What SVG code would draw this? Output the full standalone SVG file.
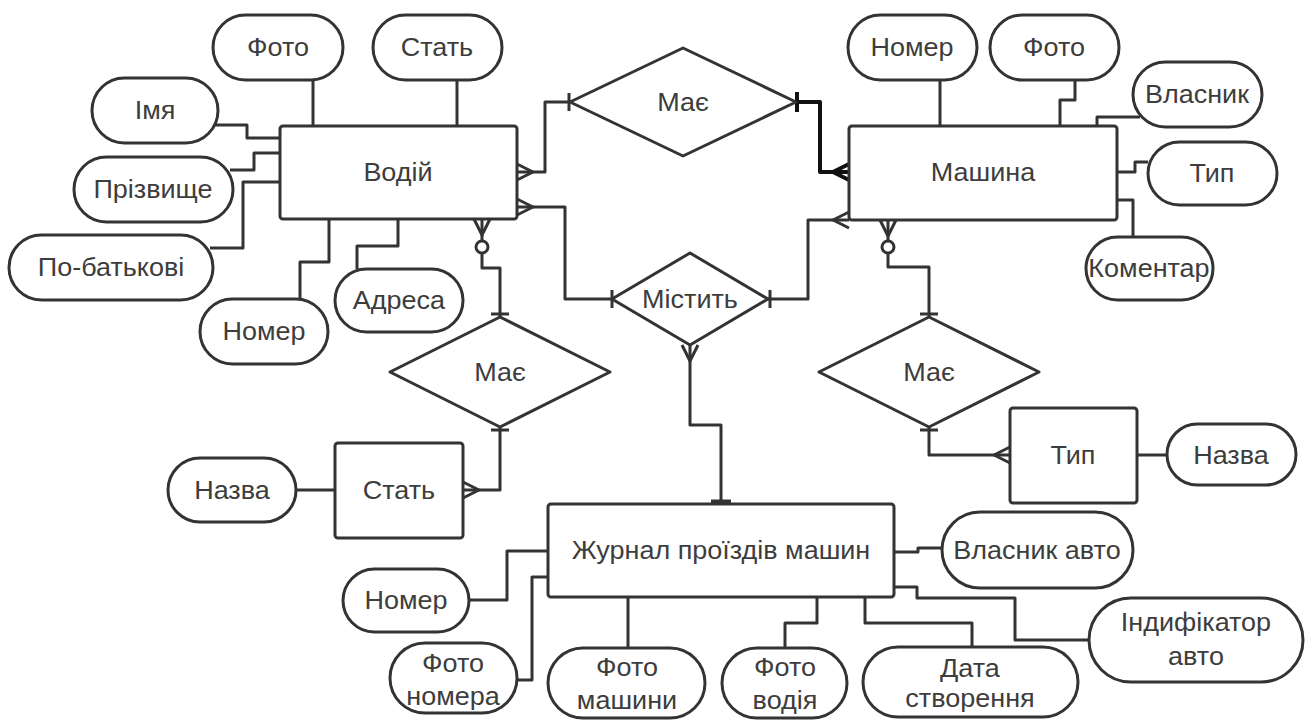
<svg xmlns="http://www.w3.org/2000/svg" width="1309" height="720" viewBox="0 0 1309 720">
  <style>
    .ent { fill: #fff; stroke: #333; stroke-width: 3; }
    .attr { fill: #fff; stroke: #333; stroke-width: 3; }
    .rel { fill: #fff; stroke: #333; stroke-width: 3; stroke-linejoin: round; }
    .c { fill: none; stroke: #333; stroke-width: 3; stroke-linejoin: round; }
    .cb { fill: none; stroke: #111; stroke-width: 4; stroke-linejoin: round; }
    .o { fill: #fff; stroke: #333; stroke-width: 3; }
    .t { font-family: "Liberation Sans", Arial, sans-serif; font-size: 25px; fill: #3d3d3d; text-anchor: middle; dominant-baseline: central; transform-box: fill-box; transform-origin: center; transform: scaleX(1.08); }
  </style>

  <rect width="1309" height="720" fill="#fff"/>

  <!-- connectors -->
  <g id="connectors">
    <!-- Водій attributes -->
    <path class="c" d="M313,80 V126"/>
    <path class="c" d="M457,80 V126"/>
    <path class="c" d="M215,125 H247 V138 H280"/>
    <path class="c" d="M230,170 H254 V153 H280"/>
    <path class="c" d="M210,248 H243 V182 H280"/>
    <path class="c" d="M300,299 V262 H329 V219"/>
    <path class="c" d="M357,269 V246 H398 V219"/>

    <!-- Машина attributes -->
    <path class="c" d="M940,80 V126"/>
    <path class="c" d="M1075,80 V100 H1060 V126"/>
    <path class="c" d="M1140,117 H1097 V126"/>
    <path class="c" d="M1117,172 H1135 V162 H1148"/>
    <path class="c" d="M1117,200 H1133 V237"/>

    <!-- lookup attributes -->
    <path class="c" d="M296,490 H335"/>
    <path class="c" d="M1137,455 H1167"/>

    <!-- Журнал attributes -->
    <path class="c" d="M469,600 H507 V551 H548"/>
    <path class="c" d="M517,680 H532 V577 H548"/>
    <path class="c" d="M628,597 V648"/>
    <path class="c" d="M785,648 V623 H817 V597"/>
    <path class="c" d="M865,597 V623 H972 V647"/>
    <path class="c" d="M894,552 H918 V548 H942"/>
    <path class="c" d="M894,587 H917 V598 H1015 V640 H1089"/>

    <!-- Водій – Має – Машина -->
    <path class="c" d="M517,172 H545 V102 H570"/>
    <path class="c" d="M517,164 L533,172 L517,180"/>
    <path class="c" d="M569,93 V111"/>
    <path class="cb" d="M796,102 H820 V172 H849"/>
    <path class="cb" d="M797,92 V112"/>
    <path class="cb" d="M849,164 L833,172 L849,180"/>

    <!-- Водій – Містить – Машина -->
    <path class="c" d="M517,207 H565 V299 H612"/>
    <path class="c" d="M517,199 L533,207 L517,215"/>
    <path class="c" d="M612,290 V308"/>
    <path class="c" d="M768,299 H808 V220 H849"/>
    <path class="c" d="M770,290 V308"/>
    <path class="c" d="M849,212 L833,220 L849,228"/>

    <!-- Містить – Журнал -->
    <path class="c" d="M690,345 V425 H721 V504"/>
    <path class="c" d="M682,345 L690,361 L698,345"/>
    <path class="c" d="M711,502 H731" style="stroke-width:5"/>

    <!-- Водій – Має – Стать -->
    <path class="c" d="M482,219 V241"/>
    <path class="c" d="M474,219 L482,235 L490,219"/>
    <circle class="o" cx="482" cy="247" r="6"/>
    <path class="c" d="M482,253 V268 H500 V317"/>
    <path class="c" d="M491,314 H509"/>
    <path class="c" d="M500,427 V490 H463"/>
    <path class="c" d="M491,430 H509"/>
    <path class="c" d="M463,482 L479,490 L463,498"/>

    <!-- Машина – Має – Тип -->
    <path class="c" d="M888,220 V241"/>
    <path class="c" d="M880,220 L888,236 L896,220"/>
    <circle class="o" cx="888" cy="247" r="6"/>
    <path class="c" d="M888,253 V267 H929 V317"/>
    <path class="c" d="M920,314 H938"/>
    <path class="c" d="M929,427 V455 H1010"/>
    <path class="c" d="M920,430 H938"/>
    <path class="c" d="M1010,447 L994,455 L1010,463"/>
  </g>

  <!-- Водій -->
  <g id="vodii">
    <rect class="ent" x="280" y="126" width="237" height="93" rx="3"/>
    <text class="t" x="398" y="172">Водій</text>
    <rect class="attr" x="213" y="15" width="130" height="65" rx="32.5"/>
    <text class="t" x="278" y="47">Фото</text>
    <rect class="attr" x="373" y="15" width="129" height="65" rx="32.5"/>
    <text class="t" x="437" y="47">Стать</text>
    <rect class="attr" x="92" y="78" width="126" height="65" rx="32.5"/>
    <text class="t" x="155" y="110">Імя</text>
    <rect class="attr" x="74" y="157" width="159" height="65" rx="32.5"/>
    <text class="t" x="153" y="189">Прізвище</text>
    <rect class="attr" x="9" y="235" width="204" height="65" rx="32.5"/>
    <text class="t" x="111" y="267">По-батькові</text>
    <rect class="attr" x="200" y="299" width="128" height="65" rx="32.5"/>
    <text class="t" x="264" y="331">Номер</text>
    <rect class="attr" x="335" y="269" width="128" height="63" rx="31.5"/>
    <text class="t" x="399" y="300">Адреса</text>
  </g>

  <!-- Машина -->
  <g id="mashyna">
    <rect class="ent" x="849" y="126" width="268" height="94" rx="3"/>
    <text class="t" x="983" y="172">Машина</text>
    <rect class="attr" x="848" y="15" width="129" height="65" rx="32.5"/>
    <text class="t" x="912" y="47">Номер</text>
    <rect class="attr" x="990" y="15" width="129" height="65" rx="32.5"/>
    <text class="t" x="1054" y="47">Фото</text>
    <rect class="attr" x="1133" y="62" width="129" height="65" rx="32.5"/>
    <text class="t" x="1197" y="94">Власник</text>
    <rect class="attr" x="1148" y="142" width="129" height="63" rx="31.5"/>
    <text class="t" x="1212" y="173">Тип</text>
    <rect class="attr" x="1086" y="237" width="127" height="63" rx="31.5"/>
    <text class="t" x="1149" y="268">Коментар</text>
  </g>

  <!-- relationships -->
  <g id="rel-vodii-mashyna">
    <polygon class="rel" points="570,102 683,48 796,102 683,156"/>
    <text class="t" x="683" y="102">Має</text>
  </g>
  <g id="rel-mistyt">
    <polygon class="rel" points="612,299 690,253 768,299 690,345"/>
    <text class="t" x="690" y="299">Містить</text>
  </g>
  <g id="rel-vodii-stat">
    <polygon class="rel" points="390,372 500,317 610,372 500,427"/>
    <text class="t" x="500" y="372">Має</text>
  </g>
  <g id="rel-mashyna-typ">
    <polygon class="rel" points="819,372 929,317 1039,372 929,427"/>
    <text class="t" x="929" y="372">Має</text>
  </g>

  <!-- Стать -->
  <g id="stat">
    <rect class="ent" x="335" y="443" width="128" height="95" rx="3"/>
    <text class="t" x="399" y="490">Стать</text>
    <rect class="attr" x="168" y="458" width="128" height="64" rx="32"/>
    <text class="t" x="232" y="490">Назва</text>
  </g>

  <!-- Тип -->
  <g id="typ">
    <rect class="ent" x="1010" y="408" width="127" height="95" rx="3"/>
    <text class="t" x="1073" y="455">Тип</text>
    <rect class="attr" x="1167" y="424" width="129" height="61" rx="30.5"/>
    <text class="t" x="1231" y="455">Назва</text>
  </g>

  <!-- Журнал проїздів машин -->
  <g id="zhurnal">
    <rect class="ent" x="548" y="504" width="346" height="93" rx="3"/>
    <text class="t" x="721" y="550">Журнал проїздів машин</text>
    <rect class="attr" x="942" y="512" width="191" height="76" rx="38"/>
    <text class="t" x="1037" y="550">Власник авто</text>
    <rect class="attr" x="1089" y="598" width="214" height="84" rx="42"/>
    <text class="t" x="1196" y="622">Індифікатор</text>
    <text class="t" x="1196" y="656">авто</text>
    <rect class="attr" x="343" y="569" width="126" height="63" rx="31.5"/>
    <text class="t" x="406" y="600">Номер</text>
    <rect class="attr" x="390" y="643" width="127" height="70" rx="35"/>
    <text class="t" x="453" y="663">Фото</text>
    <text class="t" x="453" y="696">номера</text>
    <rect class="attr" x="548" y="648" width="157" height="70" rx="35"/>
    <text class="t" x="627" y="667">Фото</text>
    <text class="t" x="627" y="700">машини</text>
    <rect class="attr" x="722" y="648" width="125" height="70" rx="35"/>
    <text class="t" x="785" y="667">Фото</text>
    <text class="t" x="785" y="700">водія</text>
    <rect class="attr" x="863" y="647" width="215" height="70" rx="35"/>
    <text class="t" x="970" y="668">Дата</text>
    <text class="t" x="970" y="698">створення</text>
  </g>
</svg>
